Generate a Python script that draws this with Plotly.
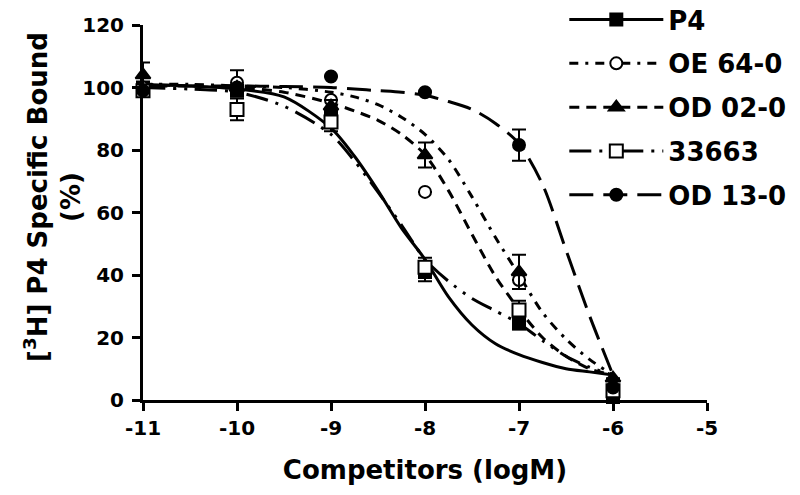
import plotly.graph_objects as go

# ---------------- data ----------------
series_names = ["P4", "OE 64-0", "OD 02-0", "33663", "OD 13-0"]
dose_x = [-11, -10, -9, -8, -7, -6]

p4_pts = [100, 99, 91, 41, 24.6, 1]
oe_pts = [100, 101.5, 96, 66.6, 38.4, 3]
od02_pts = [104, 100, 94, 78.4, 41, 7]
c33663_pts = [99, 93, 89, 42.5, 28.8, 3]
od13_pts = [99, 100, 103.5, 98.5, 81.6, 4]

p4_err = [0, 0, 0, 3, 2, 0]
oe_err = [0, 4, 0, 0, 0, 0]
od02_err = [4, 0, 2, 4, 5.5, 0]
c33663_err = [0, 3.5, 3, 3, 3, 0]
od13_err = [0, 0, 0, 0, 5, 0]

# fitted curves
curve_x = [-11, -10.5, -10, -9.5, -9, -8.75, -8.5, -8.25, -8, -7.75, -7.5, -7.25, -7, -6.75, -6.5, -6.25, -6]
p4_curve = [101, 100.5, 99.5, 97, 87, 78, 67, 55, 45, 33, 24, 18, 14.5, 12, 10, 9, 8]
oe_curve = [101, 101, 100.5, 100, 98.5, 97, 94.5, 90.5, 85, 77, 65, 52, 40, 28, 19.5, 13, 8]
od02_curve = [101, 100.5, 100, 98.5, 95, 92.5, 89.5, 85, 78.5, 67, 53, 39.5, 29, 20, 14, 10, 8]
c33663_curve = [100, 99.5, 98.5, 94, 85, 76.5, 66.5, 56, 45, 38, 32.5, 28.5, 24.5, 19, 14, 10.5, 8]
od13_curve = [100.5, 100.5, 100.5, 100.3, 100, 99.5, 99, 98.5, 97.5, 95.5, 93, 88.5, 82, 69, 48, 27, 8]

x_ticks = [-11, -10, -9, -8, -7, -6, -5]
y_ticks = [0, 20, 40, 60, 80, 100, 120]

x_title = "Competitors (logM)"
y_title = "[<sup>3</sup>H] P4 Specific Bound<br>(%)"

# ---------------- styles ----------------
FONT = "DejaVu Sans, Arial, sans-serif"
styles = [
    dict(symbol="square", fill="black", dash="solid", size=12),
    dict(symbol="circle", fill="white", dash="9px,7px,3px,7px", size=12),
    dict(symbol="triangle-up", fill="black", dash="10px,7px", size=13),
    dict(symbol="square", fill="white", dash="22px,8px,3px,8px,3px,8px", size=13),
    dict(symbol="circle", fill="black", dash="24px,10px", size=12),
]
pts = [p4_pts, oe_pts, od02_pts, c33663_pts, od13_pts]
errs = [p4_err, oe_err, od02_err, c33663_err, od13_err]
curves = [p4_curve, oe_curve, od02_curve, c33663_curve, od13_curve]

fig = go.Figure()
for i, name in enumerate(series_names):
    st = styles[i]
    # fitted curve
    fig.add_trace(go.Scatter(
        x=curve_x, y=curves[i], mode="lines", name=name, legendgroup=name, showlegend=False,
        line=dict(color="black", width=3, dash=st["dash"], shape="spline", smoothing=0.8),
        cliponaxis=False, hoverinfo="skip",
    ))
for i, name in enumerate(series_names):
    st = styles[i]
    # measured points with error bars
    fig.add_trace(go.Scatter(
        x=dose_x, y=pts[i], mode="markers", name=name, legendgroup=name, showlegend=False,
        marker=dict(symbol=st["symbol"], size=st["size"], color=st["fill"],
                    line=dict(color="black", width=2)),
        error_y=dict(type="data", array=errs[i], color="black", thickness=2, width=7),
        cliponaxis=False,
    ))
for i, name in enumerate(series_names):
    st = styles[i]
    # legend entry
    fig.add_trace(go.Scatter(
        x=[None], y=[None], mode="lines+markers", name=name, legendgroup=name, showlegend=True,
        line=dict(color="black", width=3, dash=st["dash"]),
        marker=dict(symbol=st["symbol"], size=st["size"], color=st["fill"],
                    line=dict(color="black", width=2)),
    ))

axis_common = dict(
    showline=True, linecolor="black", linewidth=3, ticks="outside", ticklen=8, tickwidth=3,
    tickcolor="black", showgrid=False, zeroline=False, mirror=False,
    tickfont=dict(family=FONT, size=20, color="black", weight="bold"),
)
fig.update_xaxes(range=[-11, -5], tickvals=x_ticks, ticktext=[str(v) for v in x_ticks],
                 title=dict(text=x_title, font=dict(family=FONT, size=26, color="black", weight="bold"),
                            standoff=22),
                 **axis_common)
fig.update_yaxes(range=[0, 120], tickvals=y_ticks, ticklabelstandoff=4, **axis_common)

fig.add_annotation(
    text=y_title, textangle=-90, xref="paper", yref="paper",
    x=-0.160, y=0.541, xanchor="center", yanchor="middle", showarrow=False,
    font=dict(family=FONT, size=26, color="black", weight="bold"),
)

fig.update_layout(
    width=800, height=495,
    margin=dict(l=143, r=93, t=25, b=95, autoexpand=False),
    plot_bgcolor="white", paper_bgcolor="white",
    font=dict(family=FONT, color="black"),
    legend=dict(x=0.747, y=1.077, xanchor="left", yanchor="top", bgcolor="rgba(0,0,0,0)",
                font=dict(family=FONT, size=26, color="black", weight="bold"),
                itemwidth=94, tracegroupgap=7, traceorder="grouped"),
    showlegend=True,
)

fig.write_html("out.html", config={"displayModeBar": False},
               post_script="document.body.style.margin='0';")
